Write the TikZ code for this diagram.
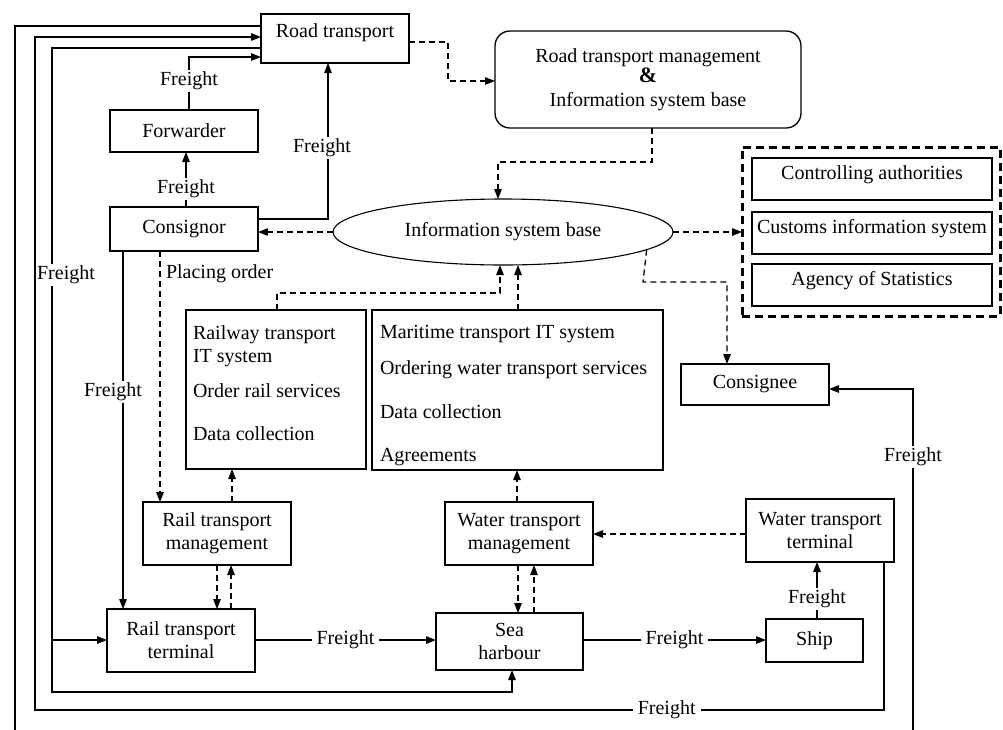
\documentclass[tikz,border=0pt]{standalone}
\usepackage{fontspec}
\setmainfont{Liberation Serif}
\usetikzlibrary{arrows.meta,shapes.geometric,calc}

\begin{document}
\begin{tikzpicture}[x=1pt,y=-1pt,
  font=\fontsize{20}{23}\selectfont,
  every node/.style={inner sep=0pt, outer sep=0pt},
  box/.style={draw, line width=1.3pt, rectangle},
  link/.style={line width=1.3pt},
  arr/.style={link, -{Triangle[length=10pt,width=7.5pt]}},
  darr/.style={arr, dash pattern=on 6pt off 4pt},
  lbl/.style={fill=white, inner xsep=5pt, inner ysep=2pt},
]
\useasboundingbox (0,0) rectangle (1003,729);
\fill[white] (0,0) rectangle (1003,729);
\clip (0,0) rectangle (1003,729);

% ---- actors and terminals ----
\node[box, minimum width=148pt, minimum height=49pt, text height=23pt, text depth=26pt] (road) at (335,38.5) {Road transport};
\node[box, minimum width=148pt, minimum height=42pt] (fwd) at (184,131) {Forwarder};
\node[box, minimum width=148pt, minimum height=44pt] (consignor) at (184,229) {Consignor};
\node[box, rounded corners=15pt, minimum width=306pt, minimum height=97pt, align=center] (rtm) at (648,79.5)
  {Road transport management\\[-3pt]{\fontsize{22}{23}\selectfont\textbf{\&}}\\[1pt]Information system base};
\node[draw, ellipse, line width=1.1pt, minimum width=340pt, minimum height=66pt] (isb) at (503,232) {Information system base};

% ---- external authorities ----
\node[draw, line width=3pt, dash pattern=on 8pt off 5pt, minimum width=258pt, minimum height=169pt] (grp) at (871,231.5) {};
\node[box, minimum width=240pt, minimum height=42pt, text height=21pt, text depth=21pt] (ctrl) at (872,179) {Controlling authorities};
\node[box, minimum width=240pt, minimum height=42pt, text height=21pt, text depth=21pt] (cust) at (872,233) {Customs information system};
\node[box, minimum width=240pt, minimum height=42pt, text height=21pt, text depth=21pt] (stat) at (872,285) {Agency of Statistics};

% ---- IT systems ----
\node[box, minimum width=180pt, minimum height=159pt] (railIT) at (276,389.5) {};
\node[anchor=base west] (railITa) at (193,339) {Railway transport};
\node[anchor=base west] (railITb) at (193,362) {IT system};
\node[anchor=base west] (railITc) at (193,397) {Order rail services};
\node[anchor=base west] (railITd) at (193,440) {Data collection};

\node[box, minimum width=291pt, minimum height=160pt] (marIT) at (517.5,390) {};
\node[anchor=base west] (marITa) at (380,338) {Maritime transport IT system};
\node[anchor=base west] (marITb) at (380,374) {Ordering water transport services};
\node[anchor=base west] (marITc) at (380,418) {Data collection};
\node[anchor=base west] (marITd) at (380,461) {Agreements};

\node[box, minimum width=148pt, minimum height=41pt] (consignee) at (755,384.5) {Consignee};

% ---- management and terminals ----
\node[box, minimum width=148pt, minimum height=63pt, align=center] (railMgmt) at (217,533.5) {Rail transport\\management};
\node[box, minimum width=148pt, minimum height=63pt, align=center] (waterMgmt) at (519,533.5) {Water transport\\management};
\node[box, minimum width=148pt, minimum height=63pt, align=center] (waterTerm) at (820,530.5) {Water transport\\terminal};
\node[box, minimum width=148pt, minimum height=63pt, align=center] (railTerm) at (181,640.5) {Rail transport\\terminal};
\node[box, minimum width=147pt, minimum height=57pt, align=center] (harbour) at (509.5,641.5) {Sea\\harbour};
\node[box, minimum width=97pt, minimum height=43pt] (ship) at (814.5,640.5) {Ship};

% ---- information flows ----
\draw[darr] (road.east |- 0,42) -- (448,42) -- (448,81) -- (rtm.west |- 0,81);
\draw[darr] (rtm.south -| 652,0) -- (652,162) -- (498,162) -- (isb.north -| 498,0);
\draw[darr] (isb.west) -- (consignor.east |- isb.west);
\draw[darr] (isb.east) -- (grp.west |- isb.east);
\draw[darr] (isb.-7.6) -- (643,282) -- (727,282) -- (consignee.north -| 727,0);
\draw[darr] (consignor.south -| 160,0) -- (railMgmt.north -| 160,0);
\node[anchor=west] (po) at (166,274) {Placing order};
\draw[darr] (railMgmt.north -| 232,0) -- (railIT.south -| 232,0);
\draw[darr] (railMgmt.south -| 217,0) -- (railTerm.north -| 217,0);
\draw[darr] (railTerm.north -| 231,0) -- (railMgmt.south -| 231,0);
\draw[darr] (railIT.north -| 277,0) -- (277,293) -- (500,293) -- (isb.south -| 500,0);
\draw[darr] (marIT.north -| 518,0) -- (isb.south -| 518,0);
\draw[darr] (waterMgmt.north -| 517,0) -- (marIT.south -| 517,0);
\draw[darr] (waterMgmt.south -| 518,0) -- (harbour.north -| 518,0);
\draw[darr] (harbour.north -| 534,0) -- (waterMgmt.south -| 534,0);
\draw[darr] (waterTerm.west |- 0,534) -- (waterMgmt.east |- 0,534);

% ---- freight flows ----
\draw[arr] (consignor.north -| 186,0) -- node[lbl,pos=0.33]{Freight} (fwd.south -| 186,0);
\draw[arr] (fwd.north -| 189,0) -- node[lbl,pos=0.55]{Freight} (189,57) -- (road.west |- 0,57);
\draw[arr] (consignor.east |- 0,219) -- (328,219) -- node[lbl,pos=0.455,xshift=-6pt]{Freight} (road.south -| 328,0);
\draw[arr] (consignor.south -| 123,0) -- node[lbl,pos=0.394,xshift=-10pt]{Freight} (railTerm.north -| 123,0);
\coordinate (split) at (52,640);
\draw[arr] (road.west |- 0,48) -- (52,48) -- node[lbl,pos=0.352,xshift=14pt]{Freight} (52,692) -- (512,692) -- (harbour.south -| 512,0);
\draw[arr] (split) -- (railTerm.west |- split);
\draw[arr] (road.west |- 0,26) -- (15,26) -- (15,745) -- (913,745) -- node[lbl,pos=0.81]{Freight} (913,389) -- (consignee.east |- 0,389);
\draw[arr] (waterTerm.south -| 884,0) -- (884,710) -- node[lbl,pos=0.256]{Freight} (35,710) -- (35,37) -- (road.west |- 0,37);
\draw[arr] (railTerm.east |- 0,640) -- node[lbl]{Freight} (harbour.west |- 0,640);
\draw[arr] (harbour.east |- 0,640) -- node[lbl]{Freight} (ship.west |- 0,640);
\draw[arr] (ship.north -| 817,0) -- node[lbl,pos=0.35]{Freight} (waterTerm.south -| 817,0);
\end{tikzpicture}
\end{document}
